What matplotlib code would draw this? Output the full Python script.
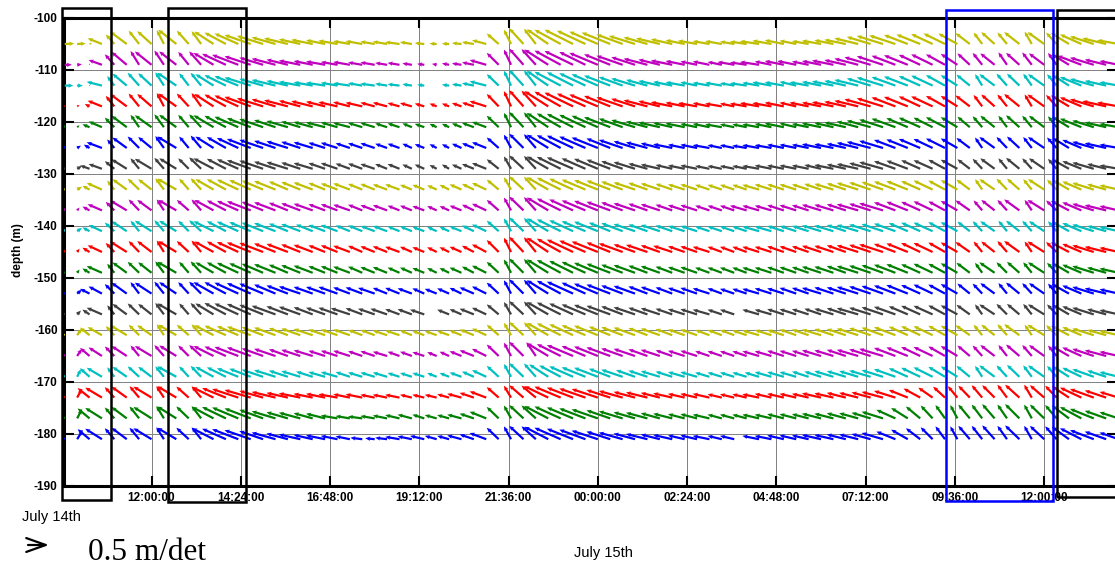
import numpy as np
import pandas as pd
import matplotlib
matplotlib.use('Agg')
import matplotlib.pyplot as plt
import matplotlib.dates as mdates
from matplotlib.patches import Rectangle, FancyArrowPatch

nan = np.nan

# ---------------- data ----------------
start_time = '2011-07-14 09:40'
sample_step = '20min'
depths = [-105, -109, -113, -117, -121, -125, -129, -133, -137, -141,
          -145, -149, -153, -157, -161, -165, -169, -173, -177, -181]
colors = ['#BFBF00', '#BF00BF', '#00BFBF', '#FF0000', '#008000', '#0000FF', '#404040'] * 3

# east (u) and north (v) components in cm/s, one sample every 20 min
v_105 = [1,1,2, 12,20,26,28,27,29,30,28,27,26, 24,22,19,17,14,12,10,9,8, 7,6,6,5,5,4,4,2,1,1,2,4,8, 22,30,33,32,31,30,30,28, 26,24,20,17,14,12,10, 8,7,6,6,5,5,6,7,8,7,6,7,8,9, 12,15,17,18,19,20,21,22,22, 23,24,25,24,25,26,25,24,23, 20,16,12,8]
u_105 = [20,18,5, -30,-18,-35,-22,-30,-15,-38,-25,-20,-40, -45,-50,-55,-55,-50,-50,-45,-45,-40, -40,-35,-35,-30,-30,-30,-25,-20,-15,-15,-20,-25,-30, -25,-15,-30,-25,-45,-55,-60,-60, -60,-60,-55,-55,-50,-50,-45, -40,-40,-35,-35,-30,-35,-40,-40,-40,-35,-35,-40,-40,-45, -50,-50,-55,-55,-50,-50,-45,-45,-40, -30,-18,-28,-20,-32,-15,-35,-22,-38, -45,-50,-50,-45]
v_109 = [0,1,3, 10,22,27,29,28,30,28,27,28,25, 23,21,18,15,13,11,9,8,7, 6,6,5,5,4,4,3,2,2,3,3,5,10, 25,32,34,33,32,30,29,27, 25,22,19,16,13,11,9, 8,7,7,6,6,5,6,7,8,8,7,8,9,10, 13,16,18,19,20,21,22,22,23, 24,25,24,26,25,26,24,25,22, 19,15,11,8]
u_109 = [15,10,0, -28,-20,-32,-18,-35,-20,-36,-22,-25,-42, -50,-55,-55,-50,-50,-45,-45,-40,-40, -35,-35,-30,-30,-25,-25,-20,-15,-10,-15,-20,-25,-35, -25,-15,-30,-30,-50,-55,-60,-55, -60,-55,-55,-50,-50,-45,-45, -40,-35,-35,-30,-35,-35,-40,-35,-40,-40,-35,-40,-45,-45, -50,-55,-55,-50,-50,-45,-45,-40,-35, -26,-20,-30,-18,-28,-20,-32,-18,-36, -50,-50,-45,-40]
v_113 = [0,0,2, 8,20,25,27,26,28,27,26,27,24, 22,20,17,14,12,10,8,7,6, 6,5,5,4,4,3,3,2,nan,2,3,5,9, 24,31,33,32,31,29,28,26, 24,21,18,15,12,10,8, 7,7,6,6,5,5,6,7,7,8,7,8,9,10, 12,15,17,18,19,20,21,22,22, 23,24,24,25,25,25,24,24,22, 18,14,10,7]
u_113 = [18,12,0, -32,-15,-30,-24,-28,-18,-40,-20,-22,-38, -45,-50,-55,-50,-50,-45,-45,-40,-40, -35,-35,-30,-30,-25,-25,-20,-15,nan,-15,-20,-25,-35, -25,-15,-30,-25,-45,-55,-55,-55, -55,-55,-50,-50,-45,-45,-40, -40,-35,-35,-35,-30,-35,-35,-40,-40,-35,-40,-40,-45,-45, -50,-50,-55,-50,-50,-45,-45,-40,-35, -28,-15,-32,-22,-26,-18,-34,-20,-34, -45,-50,-45,-40]
v_117 = [2,3,5, 12,22,26,27,26,28,27,27,28,26, 25,23,20,17,15,13,12,11,10, 9,9,8,8,8,7,7,6,6,6,7,8,11, 26,32,34,33,32,31,29,27, 25,22,19,16,13,11,9, 8,7,7,6,6,6,7,7,8,8,8,8,9,10, 12,15,17,19,20,21,21,22,22, 23,24,25,25,26,25,25,24,23, 19,15,11,8]
u_117 = [-5,5,-10, -30,-18,-35,-22,-30,-15,-38,-25,-20,-40, -45,-50,-55,-55,-50,-50,-45,-45,-40, -40,-35,-35,-30,-30,-25,-25,-20,-15,-15,-20,-25,-35, -25,-15,-30,-30,-50,-55,-60,-60, -60,-55,-55,-50,-50,-45,-45, -40,-40,-35,-35,-30,-35,-40,-40,-40,-35,-40,-40,-45,-45, -50,-55,-55,-50,-50,-45,-45,-40,-35, -30,-18,-28,-20,-32,-15,-35,-22,-38, -45,-50,-50,-45]
v_121 = [3,4,6, 12,20,24,26,25,27,26,26,27,25, 24,22,19,17,15,13,12,11,10, 10,9,9,9,8,8,8,7,7,7,8,9,11, 24,30,32,31,30,29,28,26, 24,21,18,15,12,10,9, 8,7,7,6,6,6,6,7,8,8,7,8,9,10, 12,14,16,18,19,20,20,21,21, 22,23,24,24,25,24,24,23,22, 18,14,10,7]
u_121 = [-10,5,-15, -28,-20,-32,-18,-35,-20,-36,-22,-25,-42, -45,-50,-50,-50,-45,-45,-40,-40,-40, -35,-35,-30,-30,-25,-25,-20,-20,-15,-15,-20,-25,-30, -25,-15,-30,-25,-45,-50,-55,-55, -55,-55,-50,-50,-45,-45,-40, -40,-35,-35,-35,-30,-30,-35,-35,-40,-35,-35,-40,-40,-45, -45,-50,-50,-50,-45,-45,-40,-40,-35, -26,-20,-30,-18,-28,-20,-32,-18,-36, -45,-45,-45,-40]
v_125 = [4,5,7, 12,18,22,24,23,25,24,24,26,24, 23,21,19,17,15,14,13,12,11, 11,10,10,10,9,9,9,8,8,8,9,10,12, 22,28,30,29,28,27,26,24, 22,20,17,14,12,10,8, 7,7,6,6,6,5,6,6,7,7,7,8,8,9, 11,13,15,17,18,19,19,20,20, 21,22,23,23,24,23,23,22,21, 17,13,10,7]
u_125 = [-10,8,-12, -32,-15,-30,-24,-28,-18,-40,-20,-22,-38, -40,-45,-50,-50,-45,-45,-40,-40,-35, -35,-30,-30,-30,-25,-25,-20,-20,-15,-15,-20,-25,-30, -25,-15,-30,-25,-45,-50,-55,-55, -55,-50,-50,-45,-45,-40,-40, -35,-35,-35,-30,-30,-30,-35,-35,-35,-35,-35,-40,-40,-40, -45,-50,-50,-45,-45,-45,-40,-40,-35, -28,-15,-32,-22,-26,-18,-34,-20,-34, -40,-45,-45,-40]
v_129 = [5,6,7, 10,16,20,22,21,23,22,22,24,22, 21,20,18,17,15,14,13,12,12, 12,11,11,10,10,10,9,9,8,9,9,10,12, 20,26,28,27,26,25,24,22, 21,19,16,14,11,9,8, 7,7,6,6,6,6,6,7,7,7,7,8,8,9, 10,12,14,16,17,18,18,19,19, 20,21,22,22,23,22,22,21,20, 16,13,10,7]
u_129 = [-15,10,-20, -28,-20,-32,-18,-35,-20,-36,-22,-25,-42, -40,-45,-50,-50,-45,-45,-40,-40,-35, -35,-30,-30,-30,-25,-25,-20,-20,-15,-15,-20,-25,-30, -25,-15,-30,-25,-45,-50,-55,-50, -50,-50,-45,-45,-40,-40,-35, -35,-35,-30,-30,-30,-30,-35,-35,-35,-35,-35,-35,-40,-40, -45,-45,-50,-45,-45,-40,-40,-35,-35, -26,-20,-30,-18,-28,-20,-32,-18,-36, -40,-45,-40,-40]
v_133 = [4,6,8, 14,19,22,23,22,24,23,23,24,22, 22,21,20,19,18,17,16,15,14, 13,13,12,12,11,11,10,10,9,10,11,12,14, 21,26,28,27,26,25,23,21, 20,19,17,15,14,13,12, 11,11,10,10,10,10,10,11,11,11,11,12,12,13, 14,15,16,17,18,18,19,19,20, 21,22,22,23,23,22,22,21,20, 17,14,11,9]
u_133 = [-15,10,-15, -32,-15,-30,-24,-28,-18,-40,-20,-22,-38, -40,-45,-45,-45,-45,-40,-40,-40,-35, -35,-35,-30,-30,-30,-30,-25,-25,-20,-20,-25,-25,-30, -25,-15,-30,-25,-45,-50,-50,-50, -50,-50,-45,-45,-40,-40,-35, -35,-35,-30,-30,-30,-30,-35,-35,-35,-35,-35,-35,-40,-40, -45,-45,-45,-45,-45,-40,-40,-35,-35, -28,-15,-32,-22,-26,-18,-34,-20,-34, -40,-45,-40,-40]
v_137 = [5,6,8, 13,18,21,23,22,23,22,22,23,22, 21,20,19,18,17,16,15,14,13, 13,12,12,11,11,10,10,9,9,9,10,12,14, 22,27,29,28,27,25,23,21, 20,18,17,15,14,13,12, 11,11,10,10,10,10,10,10,11,11,11,12,12,13, 13,14,15,17,18,18,19,19,20, 21,21,22,22,23,22,22,21,20, 17,14,11,9]
u_137 = [-10,5,-15, -30,-18,-35,-22,-30,-15,-38,-25,-20,-40, -40,-45,-50,-45,-45,-40,-40,-40,-35, -35,-35,-30,-30,-30,-25,-25,-25,-20,-20,-25,-25,-30, -25,-15,-30,-25,-45,-50,-50,-50, -50,-50,-45,-45,-40,-40,-35, -35,-35,-30,-30,-30,-35,-35,-35,-35,-35,-35,-40,-40,-40, -45,-45,-50,-45,-45,-40,-40,-35,-35, -30,-18,-28,-20,-32,-15,-35,-22,-38, -40,-45,-45,-40]
v_141 = [5,7,8, 13,18,21,22,22,23,22,22,23,21, 21,20,19,18,17,16,15,14,13, 13,12,12,11,11,10,10,9,9,9,10,12,14, 22,27,29,28,27,25,23,21, 20,18,17,15,14,13,12, 11,11,10,10,10,10,10,10,11,11,11,12,12,13, 13,14,15,16,17,18,18,19,19, 20,21,21,22,22,22,21,21,20, 17,14,11,9]
u_141 = [-10,10,-15, -28,-20,-32,-18,-35,-20,-36,-22,-25,-42, -40,-45,-45,-45,-45,-40,-40,-35,-35, -35,-30,-30,-30,-30,-25,-25,-25,-20,-20,-25,-25,-30, -25,-15,-30,-25,-45,-50,-50,-50, -50,-45,-45,-45,-40,-40,-35, -35,-35,-30,-30,-30,-30,-35,-35,-35,-35,-35,-40,-40,-40, -45,-45,-45,-45,-40,-40,-40,-35,-35, -26,-20,-30,-18,-28,-20,-32,-18,-36, -40,-45,-40,-40]
v_145 = [5,7,9, 14,19,22,23,23,24,23,23,24,22, 22,21,20,19,18,17,16,15,14, 14,13,13,12,12,11,11,10,10,10,11,13,16, 25,30,32,31,30,28,26,24, 22,20,18,16,15,14,13, 12,12,11,11,11,11,11,11,12,12,12,13,13,14, 14,15,16,17,18,19,19,20,20, 21,22,22,23,23,22,22,21,20, 17,14,11,9]
u_145 = [-10,5,-15, -30,-18,-35,-22,-30,-15,-38,-25,-20,-40, -40,-45,-50,-50,-45,-45,-40,-40,-35, -35,-35,-30,-30,-30,-30,-25,-25,-20,-20,-25,-25,-30, -25,-15,-30,-25,-45,-50,-55,-55, -55,-50,-50,-45,-45,-40,-40, -35,-35,-35,-30,-30,-30,-35,-35,-35,-35,-35,-40,-40,-40, -45,-45,-50,-45,-45,-40,-40,-35,-35, -30,-18,-28,-20,-32,-15,-35,-22,-38, -40,-45,-45,-40]
v_149 = [5,7,9, 14,19,22,23,22,24,23,23,24,22, 22,21,20,19,18,17,16,15,14, 14,13,13,12,12,11,11,10,10,10,11,13,15, 23,28,30,29,28,27,25,23, 21,19,17,16,15,14,13, 12,12,11,11,11,11,11,11,12,12,12,13,13,14, 14,15,16,17,18,18,19,19,20, 21,21,22,22,23,22,22,21,20, 17,14,11,9]
u_149 = [-15,5,-15, -32,-15,-30,-24,-28,-18,-40,-20,-22,-38, -40,-45,-45,-45,-45,-40,-40,-40,-35, -35,-35,-30,-30,-30,-25,-25,-25,-20,-20,-25,-25,-30, -25,-15,-30,-25,-45,-50,-50,-50, -50,-50,-45,-45,-40,-40,-35, -35,-35,-30,-30,-30,-30,-35,-35,-35,-35,-35,-40,-40,-40, -45,-45,-45,-45,-45,-40,-40,-35,-35, -28,-15,-32,-22,-26,-18,-34,-20,-34, -40,-45,-40,-40]
v_153 = [6,8,10, 15,20,23,24,23,25,24,24,25,24, 24,23,22,21,19,17,15,14,14, 14,13,13,12,12,12,11,11,10,11,12,13,15, 23,28,30,29,28,27,25,23, 21,19,17,16,15,14,13, 12,12,11,11,10,10,10,11,11,12,12,12,13,13, 14,15,16,17,18,18,19,19,20, 21,21,22,22,23,22,22,21,20, 17,14,11,9]
u_153 = [-15,10,-20, -28,-20,-32,-18,-35,-20,-36,-22,-25,-42, -45,-50,-50,-50,-45,-45,-45,-40,-40, -40,-35,-35,-35,-30,-30,-30,-25,-25,-25,-25,-30,-30, -25,-15,-30,-25,-45,-50,-55,-50, -50,-50,-45,-45,-40,-40,-35, -35,-35,-35,-30,-30,-30,-35,-35,-35,-35,-35,-40,-40,-40, -45,-45,-45,-45,-45,-40,-40,-35,-35, -26,-20,-30,-18,-28,-20,-32,-18,-36, -40,-45,-45,-40]
v_157 = [6,8,10, 14,19,22,23,22,24,23,23,24,23, 24,23,22,20,18,17,16,15,14, 14,13,13,12,12,11,11,10,nan,10,11,12,14, 21,26,28,27,26,25,23,21, 20,18,17,15,14,13,12, 11,11,10,10,10,nan,10,10,11,11,11,12,12,13, 13,14,15,16,17,18,18,19,19, 20,21,21,22,22,22,21,21,20, 17,14,11,9]
u_157 = [-15,8,-15, -32,-15,-30,-24,-28,-18,-40,-20,-22,-38, -45,-50,-50,-50,-50,-45,-45,-40,-40, -40,-40,-35,-35,-35,-30,-30,-30,nan,-25,-25,-30,-30, -25,-15,-30,-25,-45,-50,-50,-50, -50,-50,-45,-45,-40,-40,-35, -35,-35,-35,-30,-30,nan,-35,-35,-35,-35,-35,-35,-40,-40, -45,-45,-45,-45,-40,-40,-40,-35,-35, -28,-15,-32,-22,-26,-18,-34,-20,-34, -40,-45,-40,-40]
v_161 = [10,14,16, 17,19,21,22,21,23,22,22,23,21, 20,19,18,17,16,15,14,13,12, 12,12,11,11,10,10,10,9,9,9,10,12,14, 22,26,28,27,26,25,23,21, 20,18,17,16,15,14,13, 12,12,11,11,11,10,10,11,11,12,12,12,13,13, 14,15,16,17,18,19,19,20,20, 21,22,22,23,23,22,22,21,20, 17,14,11,9]
u_161 = [-20,10,-20, -30,-18,-35,-22,-30,-15,-38,-25,-20,-40, -45,-45,-50,-45,-45,-40,-40,-40,-35, -35,-35,-30,-30,-30,-30,-25,-25,-25,-25,-25,-30,-30, -25,-15,-30,-25,-45,-50,-50,-50, -50,-45,-45,-45,-40,-40,-35, -35,-35,-30,-30,-30,-30,-35,-35,-35,-35,-35,-40,-40,-40, -45,-45,-45,-45,-40,-40,-40,-35,-35, -30,-18,-28,-20,-32,-15,-35,-22,-38, -40,-45,-40,-40]
v_165 = [12,15,17, 18,20,21,22,21,23,22,22,23,21, 20,19,18,16,15,14,13,12,11, 11,11,10,10,9,9,9,8,8,9,10,12,15, 24,28,30,29,27,25,23,21, 20,18,16,15,14,13,12, 11,11,10,10,10,10,10,10,11,11,11,12,12,13, 13,14,15,17,18,19,19,20,21, 22,22,23,23,24,23,23,22,21, 18,15,12,9]
u_165 = [-15,10,-20, -28,-20,-32,-18,-35,-20,-36,-22,-25,-42, -45,-50,-50,-45,-45,-40,-40,-40,-35, -35,-35,-30,-30,-30,-25,-25,-25,-20,-20,-25,-30,-30, -25,-15,-30,-20,-45,-50,-55,-50, -50,-50,-45,-45,-40,-40,-35, -35,-35,-30,-30,-30,-30,-35,-35,-35,-35,-35,-40,-40,-40, -45,-45,-50,-45,-45,-40,-40,-35,-35, -26,-20,-30,-18,-28,-20,-32,-18,-36, -40,-45,-45,-40]
v_169 = [13,16,18, 19,20,21,22,21,22,22,22,23,21, 20,18,17,15,14,13,12,11,10, 10,10,9,9,9,8,8,8,8,8,9,11,14, 23,27,29,28,26,24,22,20, 19,17,15,14,13,12,11, 10,10,9,9,9,9,9,10,10,10,11,11,12,12, 12,13,14,16,18,19,20,21,22, 23,23,24,24,25,24,24,23,22, 19,16,13,10]
u_169 = [-20,8,-20, -32,-15,-30,-24,-28,-18,-40,-20,-22,-38, -40,-45,-45,-45,-45,-40,-40,-35,-35, -35,-30,-30,-30,-30,-25,-25,-25,-20,-20,-25,-25,-30, -25,-15,-30,-25,-40,-45,-50,-50, -50,-45,-45,-40,-40,-40,-35, -35,-35,-30,-30,-30,-30,-30,-35,-35,-35,-35,-35,-40,-40, -40,-45,-45,-45,-40,-40,-40,-35,-35, -28,-15,-32,-22,-26,-18,-34,-20,-34, -40,-45,-40,-40]
v_173 = [15,18,20, 21,22,23,24,23,24,24,23,24,22, 20,18,16,14,12,10,9,8,8, 7,7,7,6,6,6,6,6,6,7,8,10,13, 22,25,26,25,24,23,21,19, 18,16,14,12,11,10,9, 8,8,8,7,7,7,7,8,8,8,8,9,9,10, 10,11,12,14,16,19,21,23,24, 25,26,26,27,27,27,26,25,24, 21,18,15,12]
u_173 = [-25,10,-25, -35,-20,-32,-20,-38,-16,-40,-26,-20,-45, -50,-55,-55,-50,-50,-45,-45,-40,-40, -40,-35,-35,-30,-30,-30,-25,-25,-25,-25,-30,-30,-35, -25,-15,-30,-30,-50,-55,-55,-55, -55,-50,-50,-45,-45,-40,-40, -35,-35,-35,-30,-30,-30,-35,-35,-35,-35,-35,-40,-40,-40, -40,-40,-45,-45,-40,-35,-30,-25,-20, -24,-22,-26,-20,-30,-16,-30,-24,-36, -45,-50,-45,-40]
v_177 = [16,19,21, 22,23,24,25,24,26,25,25,26,24, 24,23,21,18,15,13,12,11,10, 6,5,4,5,6,7,8,8,7,7,8,10,14, 24,27,28,27,26,25,23,21, 19,17,15,13,12,11,10, 9,9,8,8,8,8,8,8,9,9,9,10,10,11, 11,12,14,18,22,25,27,28,28, 29,29,30,29,30,29,29,28,27, 24,20,16,13]
u_177 = [-25,10,-25, -35,-20,-32,-20,-38,-16,-40,-26,-20,-45, -50,-55,-55,-50,-50,-45,-45,-40,-40, -35,-30,-30,-30,-30,-30,-30,-25,-25,-25,-30,-30,-35, -25,-15,-30,-30,-50,-55,-55,-55, -55,-50,-50,-45,-45,-40,-40, -35,-35,-35,-30,-30,-30,-35,-35,-35,-35,-35,-40,-40,-40, -40,-40,-45,-40,-35,-30,-25,-20,-15, -24,-22,-26,-20,-30,-16,-30,-24,-36, -45,-50,-45,-40]
v_181 = [16,19,21, 22,23,24,24,23,25,24,24,25,23, 22,21,19,17,14,12,10,9,8, 7,6,3,2,3,5,6,7,7,7,8,10,13, 24,27,28,27,26,24,22,20, 18,16,14,12,11,10,9, 8,8,7,7,7,nan,7,7,8,8,8,9,9,10, 10,11,13,16,20,23,25,27,27, 28,28,29,28,29,28,28,27,26, 23,19,16,14]
u_181 = [-25,12,-25, -35,-20,-32,-20,-38,-16,-40,-26,-20,-45, -50,-55,-55,-50,-50,-45,-45,-40,-40, -35,-30,-25,-20,-25,-30,-30,-30,-25,-25,-30,-30,-35, -25,-15,-30,-30,-50,-55,-55,-55, -55,-50,-50,-45,-45,-40,-40, -35,-35,-35,-30,-30,nan,-35,-35,-35,-35,-35,-40,-40,-40, -40,-40,-45,-40,-35,-30,-25,-20,-15, -24,-22,-26,-20,-30,-16,-30,-24,-36, -45,-50,-45,-40]

u_series = [u_105, u_109, u_113, u_117, u_121, u_125, u_129, u_133, u_137, u_141,
            u_145, u_149, u_153, u_157, u_161, u_165, u_169, u_173, u_177, u_181]
v_series = [v_105, v_109, v_113, v_117, v_121, v_125, v_129, v_133, v_137, v_141,
            v_145, v_149, v_153, v_157, v_161, v_165, v_169, v_173, v_177, v_181]

tick_start = '2011-07-14 12:00'
tick_step = '144min'
n_ticks = 11
y_ticks = [-190, -180, -170, -160, -150, -140, -130, -120, -110, -100]
x_range = ('2011-07-14 09:38:48', '2011-07-15 13:57:28')

# ---------------- figure ----------------
W, H = 1115, 567
plt.rcParams['font.family'] = ['Liberation Sans', 'DejaVu Sans']
plt.rcParams['axes.unicode_minus'] = False
fig = plt.figure(figsize=(W / 100, H / 100), dpi=100)
ax = fig.add_axes([64 / W, 1 - 486 / H, (1117 - 64) / W, 468 / H])

n = len(v_105)
times = mdates.date2num(pd.date_range(start_time, periods=n, freq=sample_step))
for d, c, uu, vv in zip(depths, colors, u_series, v_series):
    assert len(uu) == n and len(vv) == n, (d, len(uu), len(vv))
    ax.quiver(times, np.full(n, d, dtype=float), np.array(uu, float), np.array(vv, float),
              color=c, angles='uv', scale_units='dots', scale=2.1,
              units='dots', width=2.2, headwidth=2.0, headlength=2.3,
              headaxislength=2.0, minlength=0.5, zorder=3)

ax.set_xlim(mdates.date2num(pd.Timestamp(x_range[0])), mdates.date2num(pd.Timestamp(x_range[1])))
ax.set_ylim(-190, -100)
xt = mdates.date2num(pd.date_range(tick_start, periods=n_ticks, freq=tick_step))
ax.set_xticks(xt)
ax.xaxis.set_major_formatter(mdates.DateFormatter('%H:%M:%S'))
ax.set_yticks(y_ticks)
ax.grid(True, color='0.5', lw=0.7)
ax.set_axisbelow(True)
ax.tick_params(direction='in', length=7, width=1.5, top=True, right=True,
               labelsize=8.5, pad=4.5)
for lab in ax.get_xticklabels() + ax.get_yticklabels():
    lab.set_fontweight('bold')
for sp in ax.spines.values():
    sp.set_linewidth(2.2)

def fx(x):
    return x / W

def fy(y):
    return 1 - y / H

fig.text(fx(18), fy(250), 'depth (m)', rotation=90, ha='center', va='center',
         fontsize=8.5, fontweight='bold')
fig.text(fx(22), fy(521), 'July 14th', ha='left', va='baseline', fontsize=10.5)
fig.text(fx(603), fy(557), 'July 15th', ha='center', va='baseline', fontsize=10.5)
fig.text(fx(88), fy(566.5), '0.5 m/det', ha='left', va='bottom', fontsize=22.5,
         family=['Liberation Serif', 'DejaVu Serif'])
fig.add_artist(FancyArrowPatch(
    (28, H - 545), (49, H - 545), transform=None, shrinkA=0, shrinkB=0,
    arrowstyle='->,head_length=1.4,head_width=0.5', lw=1.6, color='k',
    mutation_scale=10))

# highlight boxes
boxes = [((62, 8, 111, 500), 'k'), ((168, 8, 246, 502), 'k'),
         ((946, 10, 1053, 501), '#0000FF'), ((1057, 10, 1140, 497), 'k')]
for (x0, y0, x1, y1), c in boxes:
    fig.add_artist(Rectangle((fx(x0), fy(y1)), (x1 - x0) / W, (y1 - y0) / H,
                             transform=fig.transFigure, fill=False, ec=c, lw=1.8,
                             zorder=10, clip_on=False))

fig.savefig('out.png', dpi=100)
